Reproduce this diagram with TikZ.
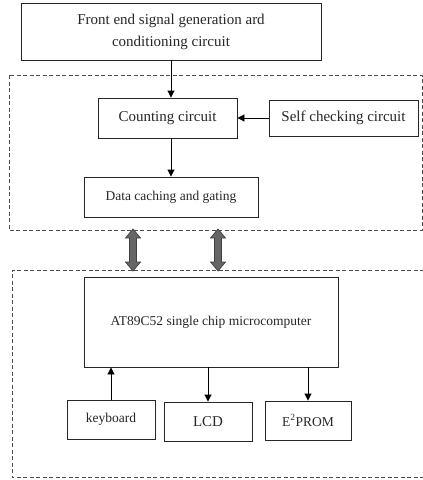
\documentclass[tikz,border=0pt]{standalone}
\usepackage{fontspec}
\setmainfont{Liberation Serif}
\usetikzlibrary{arrows.meta}
\begin{document}
\begin{tikzpicture}[x=1pt,y=-1pt,
  box/.style={draw=black!85,line width=0.9pt,rectangle,inner sep=0pt,text=black!85},
  arr/.style={draw=black,line width=0.9pt,-{Triangle[length=7pt,width=7pt]}},
  dashbox/.style={draw=black!70,line width=0.7pt,dash pattern=on 4pt off 2.5pt},
  darrow/.style={fill=black!60,draw=black!75,line width=0.7pt,line join=miter},
  big/.style={font=\fontsize{15}{22}\selectfont},
  mid/.style={font=\fontsize{13.5}{16}\selectfont}]
\useasboundingbox (0,0) rectangle (423,480);
% dashed groups
\draw[dashbox] (9,75) rectangle (422,230);
\draw[dashbox] (424,270) -- (12,270) -- (12,477) -- (424,477);
% boxes
\node[box,big,align=center,minimum width=300pt,minimum height=57pt] (top) at (171,31.5)
  {Front end signal generation ard\\conditioning circuit};
\node[box,big,minimum width=139pt,minimum height=40pt] (count) at (167.5,118) {Counting circuit};
\node[box,big,minimum width=149pt,minimum height=36pt] (self) at (343.5,118) {Self checking circuit};
\node[box,mid,minimum width=174pt,minimum height=40pt] (data) at (171,197) {Data caching and gating};
\node[box,mid,minimum width=254pt,minimum height=90pt] (mcu) at (211,322) {AT89C52 single chip microcomputer};
\node[box,mid,minimum width=88pt,minimum height=39pt] (kbd) at (111,419.5) {keyboard};
\node[box,big,minimum width=88pt,minimum height=39pt] (lcd) at (208,421.5) {LCD};
\node[box,mid,minimum width=86pt,minimum height=39pt] (eep) at (308,420.5) {E\textsuperscript{2}PROM};
% connectors
\draw[arr] (top.south) -- (top.south |- count.north);
\draw[arr] (self.west) -- (count.east);
\draw[arr] (data.north |- count.south) -- (data.north);
\draw[arr] (kbd.north) -- (kbd.north |- mcu.south);
\draw[arr] (lcd.north |- mcu.south) -- (lcd.north);
\draw[arr] (eep.north |- mcu.south) -- (eep.north);
% bus arrows
\foreach \x in {133,218} {
  \filldraw[darrow] (\x,229) -- (\x+7.5,238) -- (\x+3.5,238) -- (\x+3.5,262) -- (\x+7.5,262)
    -- (\x,271) -- (\x-7.5,262) -- (\x-3.5,262) -- (\x-3.5,238) -- (\x-7.5,238) -- cycle;
}
\end{tikzpicture}
\end{document}
